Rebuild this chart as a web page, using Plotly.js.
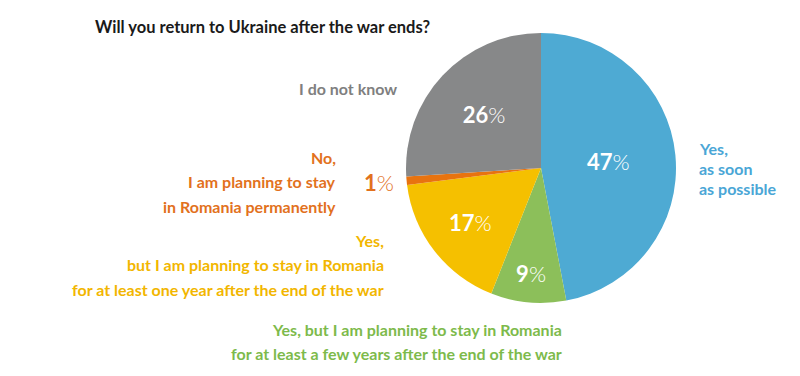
<!DOCTYPE html>
<html><head><meta charset="utf-8">
<script src="https://cdn.plot.ly/plotly-3.0.1.min.js"></script>
<style>body{margin:0;background:#fff}#c{width:800px;height:376px}</style>
</head><body><div id="c"></div>
<script>
const categories = ["Yes, as soon as possible",
  "Yes, but I am planning to stay in Romania for at least a few years after the end of the war",
  "Yes, but I am planning to stay in Romania for at least one year after the end of the war",
  "No, I am planning to stay in Romania permanently",
  "I do not know"];
const values = [47, 9, 17, 1, 26];
const sliceColors = ["#4eaad3", "#8cbf5a", "#f5c000", "#e8730f", "#878889"];
const textColors = ["#4aa6d6", "#7dba4b", "#f2b600", "#e2711d", "#7f7f7f"];
const labelLines = [
  ["Yes,", "as soon", "as possible"],
  ["Yes, but I am planning to stay in Romania", "for at least a few years after the end of the war"],
  ["Yes,", "but I am planning to stay in Romania", "for at least one year after the end of the war"],
  ["No,", "I am planning to stay", "in Romania permanently"],
  ["I do not know"]
];
const titleText = "Will you return to Ukraine after the war ends?";

const W = 800, H = 376;
const px = x => x / W, py = y => 1 - y / H;
const font = "Lato, 'Open Sans', sans-serif";
const pct = "<span style='font-weight:300'>%</span>";

const insideText = values.map((v, i) => i === 3 ? "" : "<b>" + v + "</b>" + pct);

const trace = {
  type: "pie",
  labels: categories,
  values: values,
  sort: false,
  direction: "clockwise",
  rotation: 0,
  marker: {colors: sliceColors, line: {width: 0}},
  text: insideText,
  textinfo: "text",
  textposition: "inside",
  insidetextorientation: "horizontal",
  insidetextfont: {family: font, size: 22, color: "#ffffff", weight: 300},
  hoverinfo: "label+percent",
  domain: {x: [px(406), px(676)], y: [py(303), py(33)]},
  showlegend: false
};

const annotations = [];
const ann = (text, x, y, xanchor, color) => annotations.push({
  text: text, x: px(x), y: py(y), xref: "paper", yref: "paper",
  xanchor: xanchor, yanchor: "middle", showarrow: false, align: xanchor,
  font: {family: font, size: 16, color: color, weight: "bold"}
});
// blue label lines
labelLines[0].forEach((t, j) => ann(t, 697, 149 + j * 19.5, "left", textColors[0]));
// green label lines
labelLines[1].forEach((t, j) => ann(t, 564, 329 + j * 24.5, "right", textColors[1]));
// yellow label lines
labelLines[2].forEach((t, j) => ann(t, 386, 240 + j * 24.5, "right", textColors[2]));
// orange label lines
labelLines[3].forEach((t, j) => ann(t, 338, 157 + j * 24.5, "right", textColors[3]));
// gray label
ann(labelLines[4][0], 399, 88, "right", textColors[4]);
// orange 1% outside value
annotations.push({
  text: "<b>" + values[3] + "</b>" + pct, x: px(362), y: py(182), xref: "paper", yref: "paper",
  xanchor: "left", yanchor: "middle", showarrow: false,
  font: {family: font, size: 22, color: textColors[3], weight: 300}
});

const layout = {
  width: W, height: H,
  margin: {l: 0, r: 0, t: 0, b: 0},
  paper_bgcolor: "#ffffff",
  title: {text: titleText, x: px(95), xanchor: "left", y: py(27), yanchor: "middle", xref: "paper", yref: "paper",
    font: {family: font, size: 16.5, color: "#1a1a1a", weight: "bold"}},
  annotations: annotations
};
Plotly.newPlot("c", [trace], layout, {displayModeBar: false, staticPlot: true});
</script></body></html>
